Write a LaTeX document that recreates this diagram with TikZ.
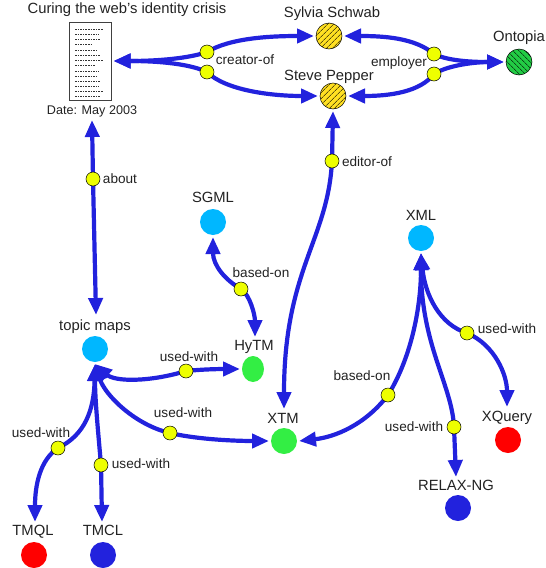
\documentclass[tikz,border=0pt]{standalone}
\usepackage{fontspec}
\setmainfont{Liberation Sans}
\usetikzlibrary{arrows.meta,backgrounds,patterns.meta,shapes.geometric}
\definecolor{linkblue}{HTML}{2222DD}
\definecolor{dotyellow}{HTML}{EEFF00}
\definecolor{topiccyan}{HTML}{00B7FF}
\definecolor{topicgreen}{HTML}{33EE44}
\definecolor{topicred}{HTML}{FF0000}
\definecolor{hatchyellow}{HTML}{FFE022}
\definecolor{hatchgreen}{HTML}{22CC44}
\definecolor{inktext}{HTML}{222222}

\begin{document}
\begin{tikzpicture}[
    x=1pt, y=-1pt,
    every node/.style={text=inktext},
    topic/.style={circle, minimum size=26pt, inner sep=0pt, outer sep=2pt},
    person/.style={topic, draw=black, line width=0.5pt, preaction={fill=hatchyellow},
                   pattern={Lines[angle=45, distance=4pt, line width=0.5pt]}},
    dot/.style={circle, draw=black, line width=0.5pt, fill=dotyellow, minimum size=14pt, inner sep=0pt},
    caption/.style={inner sep=0pt, text height=10pt, text depth=0pt, font=\fontsize{14.8pt}{16pt}\selectfont},
    assoc/.style={inner sep=0pt, text height=10pt, text depth=0pt, font=\fontsize{13.6pt}{15pt}\selectfont},
    link/.style={draw=linkblue, line width=4.2pt},
    head/.style={link, -{Triangle[length=17pt, width=14pt]}}
  ]
  \useasboundingbox (0,0) rectangle (546,568);

  % ----- document -----
  \node[draw=black!75, line width=0.6pt, fill=white, minimum width=42pt, minimum height=78pt,
        inner sep=0pt, outer sep=2pt] (doc) at (90.5,61) {};
  \foreach \row/\len in {29/28,34/24,39/26,44/18,50/22,55/26,60/28,65/20,71/24,76/22,81/26,86/24,91/28,96/26}
    \draw[black!80, line width=0.9pt, dash pattern=on 1.6pt off 1pt] (75,\row) -- ++(\len,0);
  \node[caption] (doctitle) at (127,8) {Curing the web's identity crisis};
  \node[assoc, font=\fontsize{12.6pt}{14pt}\selectfont] (docdate) at (92,109) {Date: May 2003};

  % ----- topics -----
  \node[person] (sylvia) at (329,36) {};
  \node[person] (steve)  at (333,96) {};
  \node[topic, draw=black, line width=0.5pt, preaction={fill=hatchgreen},
        pattern={Lines[angle=-45, distance=4pt, line width=0.5pt]}] (ontopia) at (519,62) {};
  \node[topic, fill=topiccyan]  (tm)    at (95,349) {};
  \node[topic, fill=topiccyan]  (sgml)  at (213,222) {};
  \node[topic, fill=topiccyan]  (xml)   at (421,238) {};
  \node[ellipse, fill=topicgreen, minimum width=22pt, minimum height=26pt, inner sep=0pt,
        outer sep=2pt] (hytm) at (253,369) {};
  \node[topic, fill=topicgreen] (xtm)   at (284,441) {};
  \node[topic, fill=topicred]   (tmql)  at (34,555) {};
  \node[topic, fill=linkblue]   (tmcl)  at (103,555) {};
  \node[topic, fill=topicred]   (xquery) at (508,440) {};
  \node[topic, fill=linkblue]   (relax) at (458,508) {};

  \node[caption] (lsylvia)  at (332,12)  {Sylvia Schwab};
  \node[caption] (lsteve)   at (329,75)  {Steve Pepper};
  \node[caption] (lontopia) at (519,36)  {Ontopia};
  \node[caption] (ltm)      at (95,325)  {topic maps};
  \node[caption] (lsgml)    at (213,197) {SGML};
  \node[caption] (lxml)     at (421,215) {XML};
  \node[caption] (lhytm)    at (254,345) {HyTM};
  \node[caption] (lxtm)     at (283,418) {XTM};
  \node[caption] (ltmql)    at (33,530)  {TMQL};
  \node[caption] (ltmcl)    at (103,530) {TMCL};
  \node[caption] (lxquery)  at (507,416) {XQuery};
  \node[caption] (lrelax)   at (456,485) {RELAX-NG};

  % ----- association dots -----
  \node[dot] (creatora) at (207,52)  {};
  \node[dot] (creatorb) at (207,72)  {};
  \node[dot] (about)    at (93,179)  {};
  \node[dot] (emplya)   at (434,54)  {};
  \node[dot] (emplyb)   at (434,74)  {};
  \node[dot] (editor)   at (332,161) {};
  \node[dot] (basedh)   at (241,289) {};
  \node[dot] (usedh)    at (186,371) {};
  \node[dot] (usedx)    at (170,433) {};
  \node[dot] (usedq)    at (58,448)  {};
  \node[dot] (usedc)    at (101,465) {};
  \node[dot] (basedx)   at (388,395) {};
  \node[dot] (usedr)    at (454,427) {};
  \node[dot] (usedy)    at (467,333) {};

  \node[assoc] (tcreator) at (245,59)  {creator-of};
  \node[assoc] (tabout)   at (120,178) {about};
  \node[assoc] (temply)   at (399,61)  {employer};
  \node[assoc] (teditor)  at (367,161) {editor-of};
  \node[assoc] (tbasedh)  at (261,272) {based-on};
  \node[assoc] (tusedh)   at (189,356) {used-with};
  \node[assoc] (tusedx)   at (183,412) {used-with};
  \node[assoc] (tusedq)   at (41,432)  {used-with};
  \node[assoc] (tusedc)   at (141,463) {used-with};
  \node[assoc] (tbasedx)  at (362,375) {based-on};
  \node[assoc] (tusedr)   at (414,426) {used-with};
  \node[assoc] (tusedy)   at (507,328) {used-with};

  % ----- free arrow ends above the topics -----
  \coordinate (atop)   at (92,120);
  \coordinate (abot)   at (96,315);
  \coordinate (tipq)   at (35,522);
  \coordinate (tipc)   at (102,522);
  \coordinate (tiph)   at (255,337);
  \coordinate (tipx)   at (284,409);
  \coordinate (tipr)   at (456,477);
  \coordinate (tipy)   at (507,407);

  % ----- links, behind the dots -----
  \begin{scope}[on background layer]
    \draw[head] (creatora.center) .. controls (190,58) and (160,61) .. (doc.east);
    \draw[head] (creatorb.center) .. controls (190,64) and (160,61) .. (doc.east);
    \draw[head] (creatora.center) .. controls (230,38) and (270,36) .. (sylvia.west);
    \draw[head] (creatorb.center) .. controls (225,90) and (270,96) .. (steve.west);
    \draw[head] (emplya.center) .. controls (415,38) and (385,36) .. (sylvia.east);
    \draw[head] (emplyb.center) .. controls (420,92) and (390,96) .. (steve.east);
    \draw[head] (emplya.center) .. controls (450,62) and (480,62) .. (ontopia.west);
    \draw[head] (emplyb.center) .. controls (450,64) and (480,62) .. (ontopia.west);
    \draw[head] (about.center) -- (atop);
    \draw[head] (about.center) -- (abot);
    \draw[head] (editor.center) -- (steve.south);
    \draw[head] (editor.center) .. controls (328,240) and (284,270) .. (tipx);
    \draw[head] (basedh.center) .. controls (225,280) and (213,265) .. (sgml.south);
    \draw[head] (basedh.center) .. controls (250,295) and (255,315) .. (tiph);
    \draw[head] (usedh.center) .. controls (150,382) and (115,382) .. (tm.south);
    \draw[head] (usedh.center) .. controls (205,369) and (225,369) .. (hytm.west);
    \draw[head] (usedx.center) .. controls (135,425) and (105,395) .. (tm.south);
    \draw[head] (usedx.center) .. controls (200,440) and (240,441) .. (xtm.west);
    \draw[head] (usedq.center) .. controls (85,435) and (94,410) .. (tm.south);
    \draw[head] (usedq.center) .. controls (40,460) and (35,485) .. (tipq);
    \draw[head] (usedc.center) .. controls (98,430) and (95,400) .. (tm.south);
    \draw[head] (usedc.center) -- (tipc);
    \draw[head] (basedx.center) .. controls (410,360) and (421,310) .. (xml.south);
    \draw[head] (basedx.center) .. controls (365,425) and (335,437) .. (xtm.east);
    \draw[head] (usedr.center) .. controls (452,385) and (421,345) .. (xml.south);
    \draw[head] (usedr.center) -- (tipr);
    \draw[head] (usedy.center) .. controls (440,325) and (425,295) .. (xml.south);
    \draw[head] (usedy.center) .. controls (495,345) and (507,375) .. (tipy);
  \end{scope}
\end{tikzpicture}
\end{document}
